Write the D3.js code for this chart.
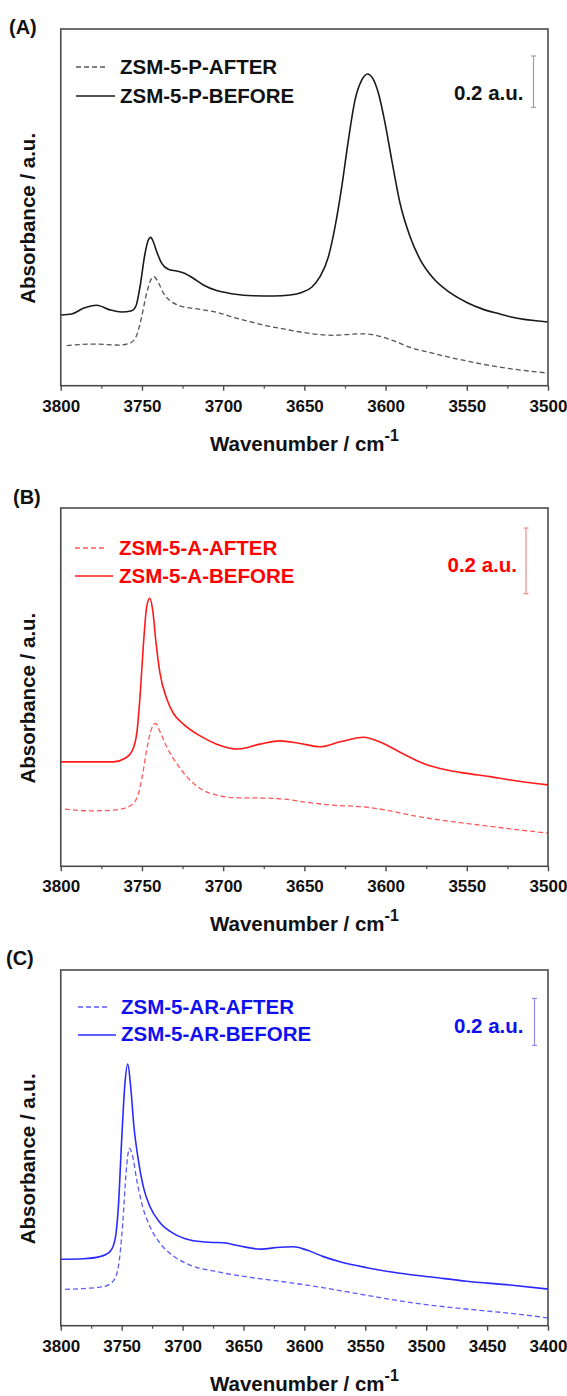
<!DOCTYPE html>
<html><head><meta charset="utf-8">
<script src="https://cdn.jsdelivr.net/npm/d3@7/dist/d3.min.js"></script>
<style>
body{margin:0;background:#fff;}
svg text{font-family:"Liberation Sans",Arial,Helvetica,sans-serif;font-weight:bold;}
</style>
</head><body>
<svg id="chart" width="567" height="1396"></svg>
<script>
// ---------------- DATA ----------------
const panelLabels = ["(A)", "(B)", "(C)"];
const legendA = ["ZSM-5-P-AFTER", "ZSM-5-P-BEFORE"];
const legendB = ["ZSM-5-A-AFTER", "ZSM-5-A-BEFORE"];
const legendC = ["ZSM-5-AR-AFTER", "ZSM-5-AR-BEFORE"];
const xTicksAB = [3800, 3750, 3700, 3650, 3600, 3550, 3500];
const xTicksC = [3800, 3750, 3700, 3650, 3600, 3550, 3500, 3450, 3400];
const xTitle = "Wavenumber / cm";
const xTitleSup = "-1";
const yTitle = "Absorbance / a.u.";
const scaleBarLabel = "0.2 a.u.";
const scaleBarSize = 0.2;

// Panel A (ZSM-5-P)
const aBeforeWn = [3800,3793.3,3786.1,3777.9,3769.7,3762.5,3756.3,3753.7,3751.2,3748.1,3746.1,3744.6,3743.0,3740.9,3737.8,3733.8,3728.6,3723.5,3718.4,3712.2,3704.0,3693.7,3681.4,3669.1,3658.8,3651.6,3645.5,3640.4,3635.2,3631.1,3627.0,3622.9,3618.8,3614.7,3611.2,3607.9,3604.4,3600.3,3596.2,3591.1,3584.9,3578.8,3570.6,3560.3,3550.0,3539.8,3529.5,3523.3,3500];
const aBeforeAbs = [0.275,0.279,0.301,0.313,0.295,0.287,0.292,0.310,0.385,0.515,0.567,0.577,0.560,0.521,0.476,0.453,0.446,0.437,0.418,0.392,0.370,0.357,0.350,0.349,0.353,0.363,0.383,0.424,0.502,0.619,0.774,0.956,1.112,1.189,1.213,1.196,1.138,1.021,0.878,0.710,0.580,0.492,0.418,0.362,0.324,0.297,0.279,0.268,0.248];
const aAfterWn = [3796.3,3780,3763.5,3757,3753.2,3750.2,3747.1,3744.0,3742.6,3739.9,3736.8,3732.7,3726.6,3714.2,3704.0,3693.7,3683.5,3673.2,3662.9,3652.7,3642.4,3632.2,3621.9,3613.7,3605.4,3595.2,3584.9,3570.6,3560.3,3550.0,3539.8,3529.5,3500];
const aAfterAbs = [0.156,0.162,0.158,0.167,0.197,0.268,0.360,0.418,0.424,0.401,0.360,0.331,0.311,0.297,0.286,0.266,0.249,0.233,0.221,0.209,0.200,0.196,0.200,0.202,0.195,0.175,0.149,0.126,0.110,0.096,0.083,0.072,0.049];

// Panel B (ZSM-5-A)
const bBeforeWn = [3800,3780,3767.6,3760.4,3756.3,3753.2,3751.2,3749.2,3747.1,3745.2,3743.4,3741.3,3738.9,3734.8,3730.7,3724.5,3714.2,3704.0,3690.6,3677.3,3665.0,3652.7,3640.4,3628.0,3613.7,3601.4,3589.0,3576.7,3562.4,3550.0,3535.7,3523.3,3500];
const bBeforeAbs = [0.318,0.318,0.318,0.329,0.349,0.405,0.516,0.668,0.790,0.816,0.780,0.679,0.588,0.511,0.466,0.433,0.397,0.372,0.357,0.372,0.382,0.374,0.364,0.379,0.393,0.374,0.342,0.313,0.293,0.283,0.273,0.263,0.248];
const bAfterWn = [3797.4,3782,3767.6,3758.4,3753.2,3750.2,3747.1,3744.0,3741.6,3738.9,3734.8,3728.6,3722.4,3714.2,3704.0,3693.7,3677.3,3662.9,3648.6,3632.2,3613.7,3599.3,3584.9,3570.6,3554.1,3537.8,3523.3,3500];
const bAfterAbs = [0.174,0.169,0.171,0.181,0.207,0.263,0.354,0.420,0.435,0.410,0.364,0.313,0.273,0.237,0.217,0.209,0.208,0.205,0.195,0.186,0.181,0.171,0.156,0.144,0.133,0.123,0.114,0.101];

// Panel C (ZSM-5-AR)
const cBeforeWn = [3800,3781.5,3767.8,3759.6,3755.5,3752.7,3750.0,3747.3,3745.0,3742.6,3739.9,3736.3,3732.2,3726.7,3718.5,3707.6,3693.9,3677.5,3666.5,3652.8,3636.4,3620.0,3609.1,3598.1,3584.4,3570.7,3548.8,3521.5,3494.1,3466.7,3431.2,3400];
const cBeforeAbs = [0.283,0.285,0.294,0.315,0.365,0.506,0.790,1.031,1.114,1.017,0.847,0.705,0.591,0.506,0.438,0.393,0.365,0.355,0.353,0.339,0.326,0.334,0.336,0.322,0.294,0.272,0.247,0.223,0.206,0.189,0.173,0.156];
const cAfterWn = [3796.5,3778.7,3765.1,3756.8,3752.7,3749.1,3746.4,3743.7,3741.2,3737.6,3733.5,3726.7,3718.5,3707.6,3693.9,3672.0,3644.6,3617.3,3589.9,3562.5,3535.1,3507.8,3480.4,3453.1,3431.2,3400];
const cAfterAbs = [0.155,0.159,0.166,0.191,0.251,0.436,0.649,0.755,0.726,0.620,0.521,0.421,0.351,0.297,0.258,0.230,0.206,0.187,0.166,0.142,0.117,0.095,0.078,0.064,0.053,0.033];

// ---------------- LAYOUT / STYLE ----------------
const left = 60.75, right = 548;
const panels = [
  { label: panelLabels[0], labelX: 9, labelY: 34, top: 29, bottom: 385.7, xDomain: [3800, 3500], ticks: xTicksAB, yMax: 1.388,
    legend: legendA, legendLineY: [67, 96], legendTextY: [74, 103], legendX0: 76, legendX1: [107, 115], legendTextX: 120,
    solid: "#1a1a1a", dashed: "#555555", text: "#111111", bar: "#a0a0a0",
    barX: 533.5, barFrom: 1.083, barTextX: 523.5, barTextY: 99.5,
    after: [aAfterWn, aAfterAbs], before: [aBeforeWn, aBeforeAbs] },
  { label: panelLabels[1], labelX: 13, labelY: 504, top: 508, bottom: 866.3, xDomain: [3800, 3500], ticks: xTicksAB, yMax: 1.091,
    legend: legendB, legendLineY: [548, 576], legendTextY: [555, 583], legendX0: 75, legendX1: [105, 113], legendTextX: 119,
    solid: "#ff1a1a", dashed: "#ff5a5a", text: "#ff0000", bar: "#f08a8a",
    barX: 526, barFrom: 0.830, barTextX: 517, barTextY: 572,
    after: [bAfterWn, bAfterAbs], before: [bBeforeWn, bBeforeAbs] },
  { label: panelLabels[2], labelX: 6, labelY: 965, top: 970, bottom: 1325.7, xDomain: [3800, 3400], ticks: xTicksC, yMax: 1.514,
    legend: legendC, legendLineY: [1007, 1035], legendTextY: [1014, 1041], legendX0: 78, legendX1: [108.5, 116], legendTextX: 121,
    solid: "#2a2aff", dashed: "#5c5cff", text: "#1010ee", bar: "#8c8cf0",
    barX: 534.5, barFrom: 1.193, barTextX: 523.5, barTextY: 1033,
    after: [cAfterWn, cAfterAbs], before: [cBeforeWn, cBeforeAbs] }
];

const svg = d3.select("#chart");

panels.forEach((p, i) => {
  const g = svg.append("g");
  const x = d3.scaleLinear().domain(p.xDomain).range([left, right]);
  const y = d3.scaleLinear().domain([0, p.yMax]).range([p.bottom, p.top]);

  // clip
  const cid = "clip" + i;
  g.append("clipPath").attr("id", cid).append("rect")
    .attr("x", left).attr("y", p.top).attr("width", right - left).attr("height", p.bottom - p.top);

  // curves
  const line = d3.line().x(d => x(d[0])).y(d => y(d[1])).curve(d3.curveMonotoneX);
  const afterPts = p.after[0].map((w, k) => [w, p.after[1][k]]);
  const beforePts = p.before[0].map((w, k) => [w, p.before[1][k]]);
  g.append("path").attr("clip-path", `url(#${cid})`).attr("d", line(afterPts))
    .attr("fill", "none").attr("stroke", p.dashed).attr("stroke-width", 1.3).attr("stroke-dasharray", "5,3");
  g.append("path").attr("clip-path", `url(#${cid})`).attr("d", line(beforePts))
    .attr("fill", "none").attr("stroke", p.solid).attr("stroke-width", 1.6);

  // frame
  g.append("rect").attr("x", left).attr("y", p.top).attr("width", right - left).attr("height", p.bottom - p.top)
    .attr("fill", "none").attr("stroke", "#4a4a4a").attr("stroke-width", 1.6);

  // x axis major
  const ax = g.append("g").attr("transform", `translate(0,${p.bottom})`)
    .call(d3.axisBottom(x).tickValues(p.ticks).tickSize(5).tickPadding(9).tickFormat(d3.format("d")));
  ax.select(".domain").remove();
  ax.selectAll("line").attr("stroke", "#4a4a4a").attr("stroke-width", 1.4);
  ax.selectAll("text").attr("font-size", "17px").attr("fill", "#111")
    .style("font-family", '"Liberation Sans", Arial, sans-serif').style("font-weight", "bold");
  // minor ticks
  const minor = p.ticks.slice(0, -1).map(t => t - 25);
  const axm = g.append("g").attr("transform", `translate(0,${p.bottom})`)
    .call(d3.axisBottom(x).tickValues(minor).tickSize(3).tickFormat(""));
  axm.select(".domain").remove();
  axm.selectAll("line").attr("stroke", "#4a4a4a").attr("stroke-width", 1.2);

  // x title
  const xt = g.append("text").attr("x", (left + right) / 2).attr("y", p.bottom + 65)
    .attr("text-anchor", "middle").attr("font-size", "20.5px").attr("fill", "#111");
  xt.append("tspan").text(xTitle);
  xt.append("tspan").attr("font-size", "16px").attr("dy", "-10").text(xTitleSup);

  // y title
  g.append("text").attr("transform", `translate(35,${(p.top + p.bottom) / 2 + 11}) rotate(-90)`)
    .attr("text-anchor", "middle").attr("font-size", "20.5px").attr("fill", "#111").text(yTitle);

  // panel label
  g.append("text").attr("x", p.labelX).attr("y", p.labelY).attr("font-size", "20px").attr("fill", "#111").text(p.label);

  // legend
  g.append("line").attr("x1", p.legendX0).attr("x2", p.legendX1[0]).attr("y1", p.legendLineY[0]).attr("y2", p.legendLineY[0])
    .attr("stroke", p.dashed).attr("stroke-width", 1.3).attr("stroke-dasharray", "5,3");
  g.append("line").attr("x1", p.legendX0).attr("x2", p.legendX1[1]).attr("y1", p.legendLineY[1]).attr("y2", p.legendLineY[1])
    .attr("stroke", p.solid).attr("stroke-width", 1.6);
  p.legend.forEach((t, k) => {
    g.append("text").attr("x", p.legendTextX).attr("y", p.legendTextY[k]).attr("font-size", "20.5px")
      .attr("fill", p.text).text(t);
  });

  // scale bar
  const y0 = y(p.barFrom), y1 = y(p.barFrom + scaleBarSize);
  g.append("line").attr("x1", p.barX).attr("x2", p.barX).attr("y1", y0).attr("y2", y1).attr("stroke", p.bar).attr("stroke-width", 1.2);
  [y0, y1].forEach(yy => g.append("line").attr("x1", p.barX - 2.5).attr("x2", p.barX + 2.5).attr("y1", yy).attr("y2", yy)
    .attr("stroke", p.bar).attr("stroke-width", 1.2));
  g.append("text").attr("x", p.barTextX).attr("y", p.barTextY).attr("text-anchor", "end").attr("font-size", "20.5px")
    .attr("fill", p.text).text(scaleBarLabel);
});
</script>
</body></html>
